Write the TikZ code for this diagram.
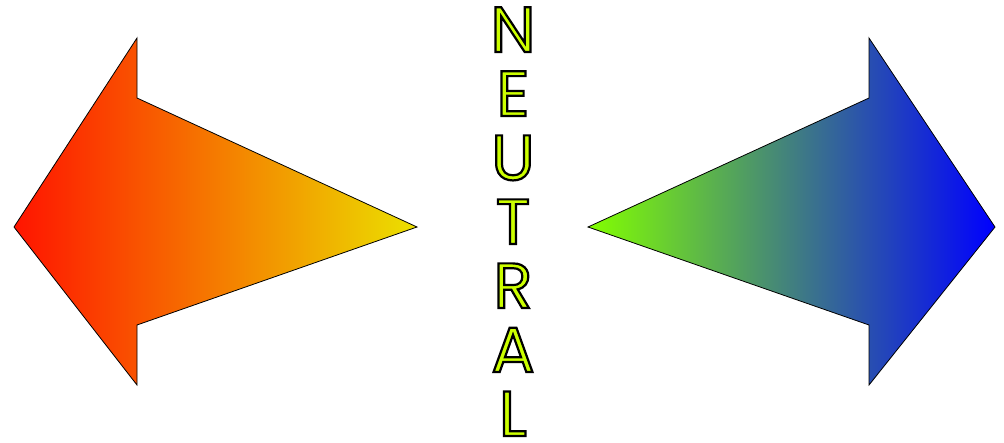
\documentclass[tikz,border=0pt]{standalone}
\usepackage{fontspec}
\setmainfont{Poppins}
\usetikzlibrary{calc}
\definecolor{letterfill}{RGB}{204,255,0}
\definecolor{warmred}{RGB}{255,20,0}
\definecolor{warmorange}{RGB}{250,120,0}
\definecolor{warmyellow}{RGB}{235,225,0}
\definecolor{coolgreen}{RGB}{130,255,0}
\definecolor{coolmid}{RGB}{40,90,140}
\definecolor{coolblue}{RGB}{0,0,255}
% outlined letters: fill with the current colour, stroke in black
\newcommand{\outlined}[1]{\special{pdf:literal direct 2 Tr 0 0 0 RG 2.2 w}#1\special{pdf:literal direct 0 Tr}}

\begin{document}
\begin{tikzpicture}[x=1pt,y=-1pt]
        % frame in pixels of the reference (1004 x 442)
        \useasboundingbox (0,0) rectangle (1004,442);

        % Left arrow (points left)
        \coordinate (L1) at (14,227);
        \coordinate (L2) at (137,38);
        \coordinate (L3) at (137,98);
        \coordinate (L4) at (417,227);
        \coordinate (L5) at (137,325);
        \coordinate (L6) at (137,385);

        % Right arrow (points right), mirror of the left one
        \coordinate (R1) at (995,227);
        \coordinate (R2) at (869,38);
        \coordinate (R3) at (869,98);
        \coordinate (R4) at (588,227);
        \coordinate (R5) at (869,325);
        \coordinate (R6) at (869,385);

        % Draw the shaded arrows
        \draw[line width=0.8pt, left color=warmred, middle color=warmorange, right color=warmyellow]
            (L1) -- (L2) -- (L3) -- (L4) -- (L5) -- (L6) -- cycle;
        \draw[line width=0.8pt, left color=coolgreen, middle color=coolmid, right color=coolblue]
            (R4) -- (R3) -- (R2) -- (R1) -- (R6) -- (R5) -- cycle;

        % The word, one letter under the other (placed on baselines)
        \foreach \ch [count=\i] in {N,E,U,T,R,A,L} {
            \node[font=\fontsize{64}{64}\selectfont, text=letterfill, inner sep=0pt,
                  text height=46pt, text depth=0pt, anchor=base] (letter\i)
                at (513,{52+64*(\i-1)}) {\outlined{\ch}};
        }
    \end{tikzpicture}
\end{document}
